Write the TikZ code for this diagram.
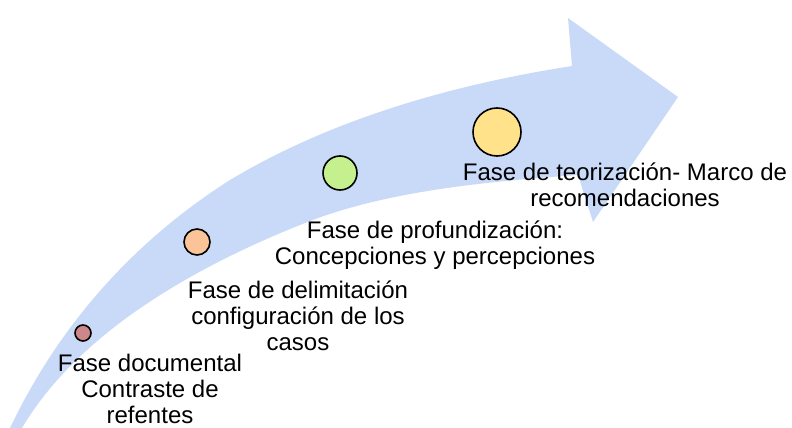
\documentclass[tikz,border=0pt]{standalone}
\usepackage{fontspec}
\setmainfont{Liberation Sans}
\definecolor{bandblue}{RGB}{201,218,248}
\definecolor{dotbrown}{RGB}{204,136,136}
\definecolor{dotorange}{RGB}{250,196,152}
\definecolor{dotgreen}{RGB}{196,240,142}
\definecolor{dotyellow}{RGB}{255,226,138}
\begin{document}
\begin{tikzpicture}[x=1pt,y=-1pt,
	dot/.style={circle,draw=black,line width=1.6pt,inner sep=0pt},
	phase/.style={align=center,inner sep=0pt,font=\fontsize{24}{26}\selectfont}]
		\useasboundingbox (0,0) rectangle (792,428);
		% curved band with its head
		\fill[bandblue] (10,428) .. controls (52,340) and (120,250) .. (230,180)
		.. controls (330,120) and (450,85) .. (572,66)
		-- (568,18) -- (678,97) -- (593,222) -- (578,175)
		.. controls (480,182) and (380,192) .. (300,225)
		.. controls (200,265) and (80,330) .. (22,428) -- cycle;
		\node [dot,fill=dotbrown,minimum size=16pt] at (83,333) (d1) {};
		\node [dot,fill=dotorange,minimum size=26pt] at (197,242) (d2) {};
		\node [dot,fill=dotgreen,minimum size=34pt] at (340,173) (d3) {};
		\node [dot,fill=dotyellow,minimum size=48pt] at (497,132) (d4) {};
		\node [phase] at (150,389) (p1) {Fase documental\\Contraste de\\refentes};
		\node [phase] at (298,316) (p2) {Fase de delimitación\\configuración de los\\casos};
		\node [phase] at (435,245) (p3) {Fase de profundización:\\Concepciones y percepciones};
		\node [phase] at (625,185) (p4) {Fase de teorización- Marco de\\recomendaciones};
	\end{tikzpicture}
\end{document}
